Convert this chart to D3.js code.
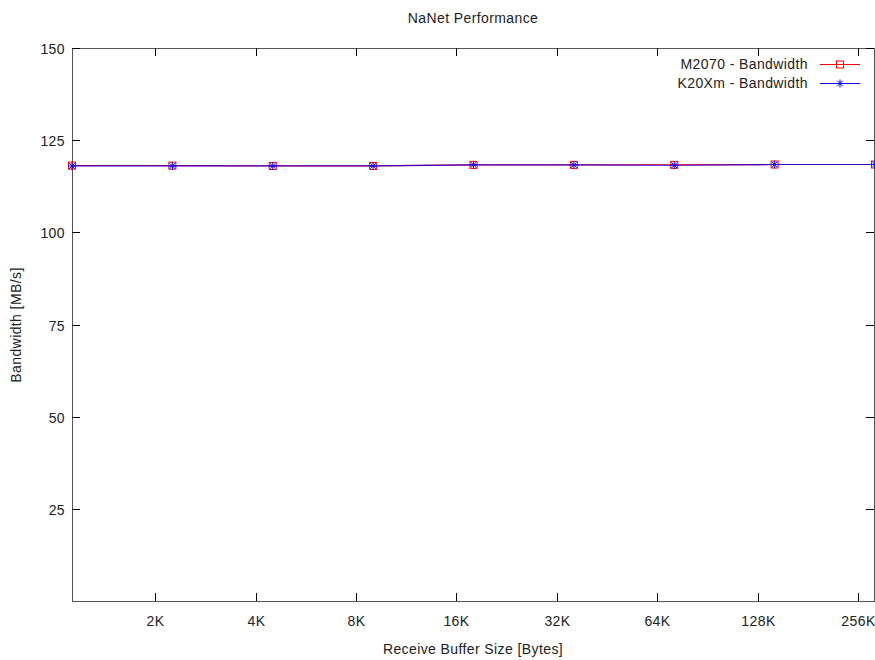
<!DOCTYPE html>
<html>
<head>
<meta charset="utf-8">
<script src="https://cdn.jsdelivr.net/npm/d3@7"></script>
<style>
body{margin:0;background:#fff;}
svg{display:block;font-family:"Liberation Sans",Arial,sans-serif;}
text{letter-spacing:0.4px;}
</style>
</head>
<body>
<svg id="c" width="875" height="660"></svg>
<script>
const bufferSizes = [1152, 2304, 4608, 9216, 18432, 36864, 73728, 147456, 294912];
const m2070 = [118.1, 118.1, 118.0, 118.0, 118.3, 118.3, 118.3, 118.4, 118.4];
const k20xm = [118.0, 118.0, 118.0, 118.0, 118.3, 118.3, 118.2, 118.4, 118.4];
const xTickValues = [2048, 4096, 8192, 16384, 32768, 65536, 131072, 262144];
const xTickLabels = ["2K", "4K", "8K", "16K", "32K", "64K", "128K", "256K"];
const yTickValues = [25, 50, 75, 100, 125, 150];
const seriesNames = ["M2070 - Bandwidth", "K20Xm - Bandwidth"];

const svg = d3.select("#c");
const L = 72, R = 874, T = 48, B = 601;
const x = d3.scaleLog().base(2).domain([bufferSizes[0], bufferSizes[bufferSizes.length-1]]).range([L, R+1]);
const y = d3.scaleLinear().domain([0, 150]).range([B, T]);
const axisCol = "#555";
const fs = 14;
const txtCol = "#222";

svg.append("rect").attr("x", L+0.5).attr("y", T+0.5).attr("width", R-L).attr("height", B-T)
  .attr("fill", "none").attr("stroke", axisCol).attr("stroke-width", 1);

xTickValues.forEach((v, i) => {
  const px = Math.round(x(v)) + 0.5;
  svg.append("line").attr("x1", px).attr("x2", px).attr("y1", B).attr("y2", B-8).attr("stroke", "#000");
  svg.append("line").attr("x1", px).attr("x2", px).attr("y1", T).attr("y2", T+8).attr("stroke", "#000");
  svg.append("text").attr("x", px).attr("y", B+25).attr("text-anchor", "middle")
    .attr("font-size", fs).attr("fill", txtCol).text(xTickLabels[i]);
});
yTickValues.forEach(v => {
  const py = Math.round(y(v)) + 0.5;
  svg.append("line").attr("x1", L).attr("x2", L+8).attr("y1", py).attr("y2", py).attr("stroke", "#000");
  svg.append("line").attr("x1", R).attr("x2", R-8).attr("y1", py).attr("y2", py).attr("stroke", "#000");
  svg.append("text").attr("x", 65).attr("y", py+5).attr("text-anchor", "end")
    .attr("font-size", fs).attr("fill", txtCol).text(v);
});

svg.append("text").attr("x", 473).attr("y", 23).attr("text-anchor", "middle").attr("font-size", fs).attr("fill", txtCol).text("NaNet Performance");
svg.append("text").attr("x", 473).attr("y", 654).attr("text-anchor", "middle").attr("font-size", fs).attr("fill", txtCol).text("Receive Buffer Size [Bytes]");
svg.append("text").attr("transform", "translate(21,325) rotate(-90)").attr("text-anchor", "middle").attr("font-size", fs).attr("fill", txtCol).text("Bandwidth [MB/s]");

const line = d3.line().x(d => x(d[0])).y(d => y(d[1]));
const plot = svg.append("g");
const d1 = bufferSizes.map((b, i) => [b, m2070[i]]);
const d2 = bufferSizes.map((b, i) => [b, k20xm[i]]);

function square(g, cx, cy) {
  g.append("rect").attr("x", cx-3.5).attr("y", cy-3.5).attr("width", 7).attr("height", 7)
    .attr("fill", "none").attr("stroke", "#f00").attr("stroke-width", 1);
}
function star(g, cx, cy) {
  const s = 4;
  const p = `M${cx-s},${cy}L${cx+s},${cy}M${cx},${cy-s}L${cx},${cy+s}M${cx-s*0.7},${cy-s*0.7}L${cx+s*0.7},${cy+s*0.7}M${cx-s*0.7},${cy+s*0.7}L${cx+s*0.7},${cy-s*0.7}`;
  g.append("path").attr("d", p).attr("stroke", "#00f").attr("stroke-width", 1).attr("fill", "none");
}

plot.append("path").datum(d1).attr("d", line).attr("fill", "none").attr("stroke", "#f00").attr("stroke-width", 1.2);
d1.forEach(d => square(plot, x(d[0]), y(d[1])));
plot.append("path").datum(d2).attr("d", line).attr("fill", "none").attr("stroke", "#00f").attr("stroke-width", 1.2).attr("stroke-opacity", 0.75);
d2.forEach(d => star(plot, x(d[0]), y(d[1])));

const leg = svg.append("g");
[0, 1].forEach(i => {
  const ly = 64 + i * 19;
  leg.append("text").attr("x", 808).attr("y", ly+5).attr("text-anchor", "end").attr("font-size", fs).attr("fill", txtCol).text(seriesNames[i]);
  leg.append("line").attr("x1", 820).attr("x2", 860).attr("y1", ly+0.5).attr("y2", ly+0.5).attr("stroke", i ? "#00f" : "#f00");
  if (i === 0) square(leg, 840, ly+0.5); else star(leg, 840, ly+0.5);
});
</script>
</body>
</html>
